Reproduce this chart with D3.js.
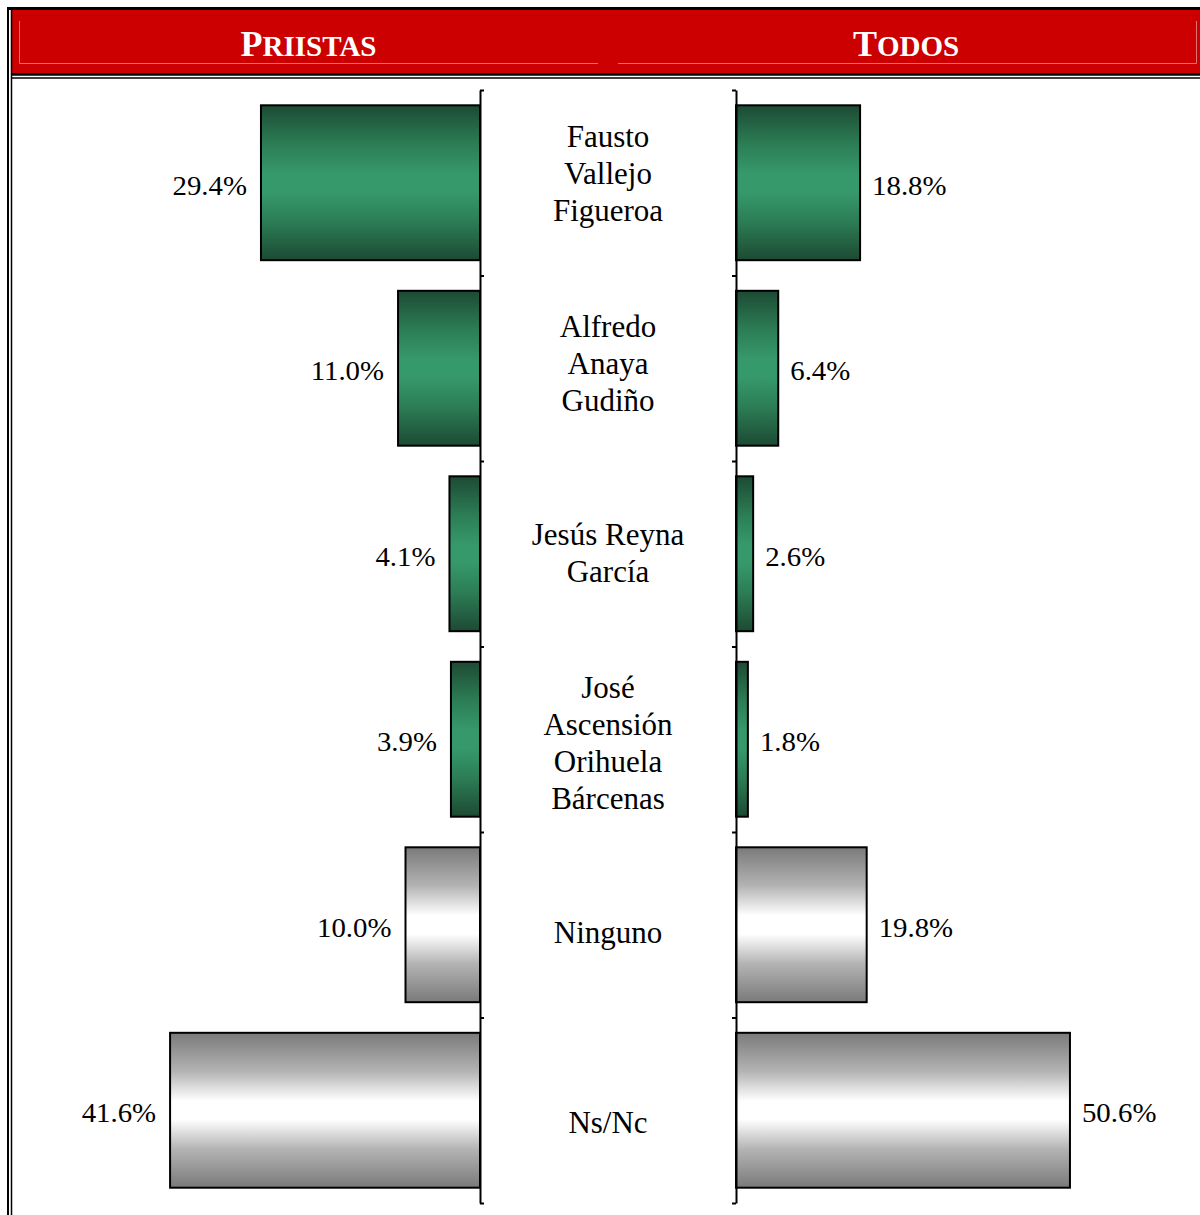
<!DOCTYPE html>
<html>
<head>
<meta charset="utf-8">
<script src="https://cdn.jsdelivr.net/npm/d3@7"></script>
<style>
  html, body { margin: 0; padding: 0; background: #fff; }
  svg { display: block; }
</style>
</head>
<body>
<div id="chart"></div>
<script>
const categories = [
  'Fausto\nVallejo\nFigueroa',
  'Alfredo\nAnaya\nGudiño',
  'Jesús Reyna\nGarcía',
  'José\nAscensión\nOrihuela\nBárcenas',
  'Ninguno',
  'Ns/Nc',
];
const kinds = ['candidato', 'candidato', 'candidato', 'candidato', 'otro', 'otro'];
const priistas = [29.4, 11.0, 4.1, 3.9, 10.0, 41.6];
const todos = [18.8, 6.4, 2.6, 1.8, 19.8, 50.6];
const panelTitles = ['Priistas', 'Todos'];

const width = 1200;
const height = 1215;
const red = '#cc0000';
const serif = '"Liberation Serif", "Times New Roman", serif';

const svg = d3.select('#chart')
  .append('svg')
  .attr('width', width)
  .attr('height', height);

// gradients
const defs = svg.append('defs');
const gradients = {
  candidato: ['#1d4a34', '#2c7d55', '#36996b', '#36996b', '#2c7d55', '#1d4a34'],
  otro: ['#7a7a7a', '#b4b4b4', '#ffffff', '#ffffff', '#b4b4b4', '#7a7a7a'],
};
const stopOffsets = [0, 0.25, 0.44, 0.56, 0.75, 1];
Object.entries(gradients).forEach(([name, colors]) => {
  const g = defs.append('linearGradient')
    .attr('id', `grad-${name}`)
    .attr('x1', 0).attr('y1', 0).attr('x2', 0).attr('y2', 1);
  colors.forEach((c, i) => {
    g.append('stop').attr('offset', stopOffsets[i]).attr('stop-color', c);
  });
});

// header
svg.append('rect')
  .attr('x', 12).attr('y', 10)
  .attr('width', width - 12).attr('height', 64)
  .attr('fill', red);

const bevel = svg.append('g')
  .attr('stroke', '#e27272')
  .attr('stroke-width', 1)
  .attr('fill', 'none');
bevel.append('path').attr('d', 'M19.5,21V63.5H598');
bevel.append('path').attr('d', 'M618,63.5H1196.5V21');

const titleCenters = [308.5, 906];
panelTitles.forEach((t, i) => {
  const text = svg.append('text')
    .attr('x', titleCenters[i])
    .attr('y', 56)
    .attr('text-anchor', 'middle')
    .attr('font-family', serif)
    .attr('font-weight', 'bold')
    .attr('fill', '#fff');
  text.append('tspan').attr('font-size', 36).text(t[0].toUpperCase());
  text.append('tspan').attr('font-size', 29).text(t.slice(1).toUpperCase());
});

// frame lines
const frame = svg.append('g').attr('stroke', '#000').attr('fill', 'none');
frame.append('line').attr('x1', 7).attr('x2', width).attr('y1', 8.5).attr('y2', 8.5).attr('stroke-width', 3);
frame.append('line').attr('x1', 8).attr('x2', 8).attr('y1', 7).attr('y2', height).attr('stroke-width', 2);
frame.append('line').attr('x1', 11.5).attr('x2', 11.5).attr('y1', 10).attr('y2', height).attr('stroke-width', 1.5);
frame.append('line').attr('x1', 11).attr('x2', width).attr('y1', 74.5).attr('y2', 74.5).attr('stroke-width', 2.5);
frame.append('line').attr('x1', 11).attr('x2', width).attr('y1', 78).attr('y2', 78).attr('stroke-width', 1.5);

// scales
const y = d3.scaleBand(categories, [90, 1203])
  .paddingInner(0.165)
  .paddingOuter(0.0825);
const yTicks = d3.scaleLinear([0, categories.length], [90, 1203]);
const yLabels = d3.scaleBand(categories, [79, 1218]);

const xLeft = d3.scaleLinear([0, 60], [480, 33]);
const xRight = d3.scaleLinear([0, 70], [736, 1198]);

const rows = categories.map((c, i) => ({
  cat: c, kind: kinds[i], left: priistas[i], right: todos[i],
}));

// bars
const bars = svg.append('g')
  .attr('stroke', '#000')
  .attr('stroke-width', 2);

bars.selectAll('rect.left')
  .data(rows)
  .join('rect')
  .attr('class', 'left')
  .attr('x', (d) => xLeft(d.left))
  .attr('y', (d) => y(d.cat))
  .attr('width', (d) => xLeft(0) - xLeft(d.left))
  .attr('height', y.bandwidth())
  .attr('fill', (d) => `url(#grad-${d.kind})`);

bars.selectAll('rect.right')
  .data(rows)
  .join('rect')
  .attr('class', 'right')
  .attr('x', xRight(0))
  .attr('y', (d) => y(d.cat))
  .attr('width', (d) => xRight(d.right) - xRight(0))
  .attr('height', y.bandwidth())
  .attr('fill', (d) => `url(#grad-${d.kind})`);

// axes
const tickAxis = (axis) => axis
  .tickValues(d3.range(categories.length + 1))
  .tickSize(4)
  .tickSizeOuter(0)
  .tickFormat('');

svg.append('g')
  .attr('transform', `translate(${xLeft(0)},0)`)
  .call(tickAxis(d3.axisRight(yTicks)))
  .call((g) => g.selectAll('path, line').attr('stroke', '#000').attr('stroke-width', 2));

svg.append('g')
  .attr('transform', `translate(${xRight(0)},0)`)
  .call(tickAxis(d3.axisLeft(yTicks)))
  .call((g) => g.selectAll('path, line').attr('stroke', '#000').attr('stroke-width', 2));

// value labels
const fmt = (v) => `${v.toFixed(1)}%`;
const labelSize = 28;
const squeeze = 1.03;

svg.append('g')
  .selectAll('text')
  .data(rows)
  .join('text')
  .attr('transform', (d) => `translate(${xLeft(d.left) - 14},${y(d.cat) + y.bandwidth() / 2 + 12}) scale(${squeeze},1)`)
  .attr('text-anchor', 'end')
  .attr('font-family', serif)
  .attr('font-size', labelSize)
  .attr('fill', '#000')
  .text((d) => fmt(d.left));

svg.append('g')
  .selectAll('text')
  .data(rows)
  .join('text')
  .attr('transform', (d) => `translate(${xRight(d.right) + 12},${y(d.cat) + y.bandwidth() / 2 + 12}) scale(${squeeze},1)`)
  .attr('text-anchor', 'start')
  .attr('font-family', serif)
  .attr('font-size', labelSize)
  .attr('fill', '#000')
  .text((d) => fmt(d.right));

// category labels
const lineHeight = 37;
const catLabels = svg.append('g')
  .attr('font-family', serif)
  .attr('font-size', 31)
  .attr('fill', '#000')
  .attr('text-anchor', 'middle');

catLabels.selectAll('text')
  .data(categories)
  .join('text')
  .each(function (c) {
    const lines = c.split('\n');
    const cy = yLabels(c) + yLabels.bandwidth() / 2;
    d3.select(this)
      .selectAll('tspan')
      .data(lines)
      .join('tspan')
      .attr('x', 608)
      .attr('y', (l, j) => cy + (j - (lines.length - 1) / 2) * lineHeight + 10)
      .text((l) => l);
  });
</script>
</body>
</html>
